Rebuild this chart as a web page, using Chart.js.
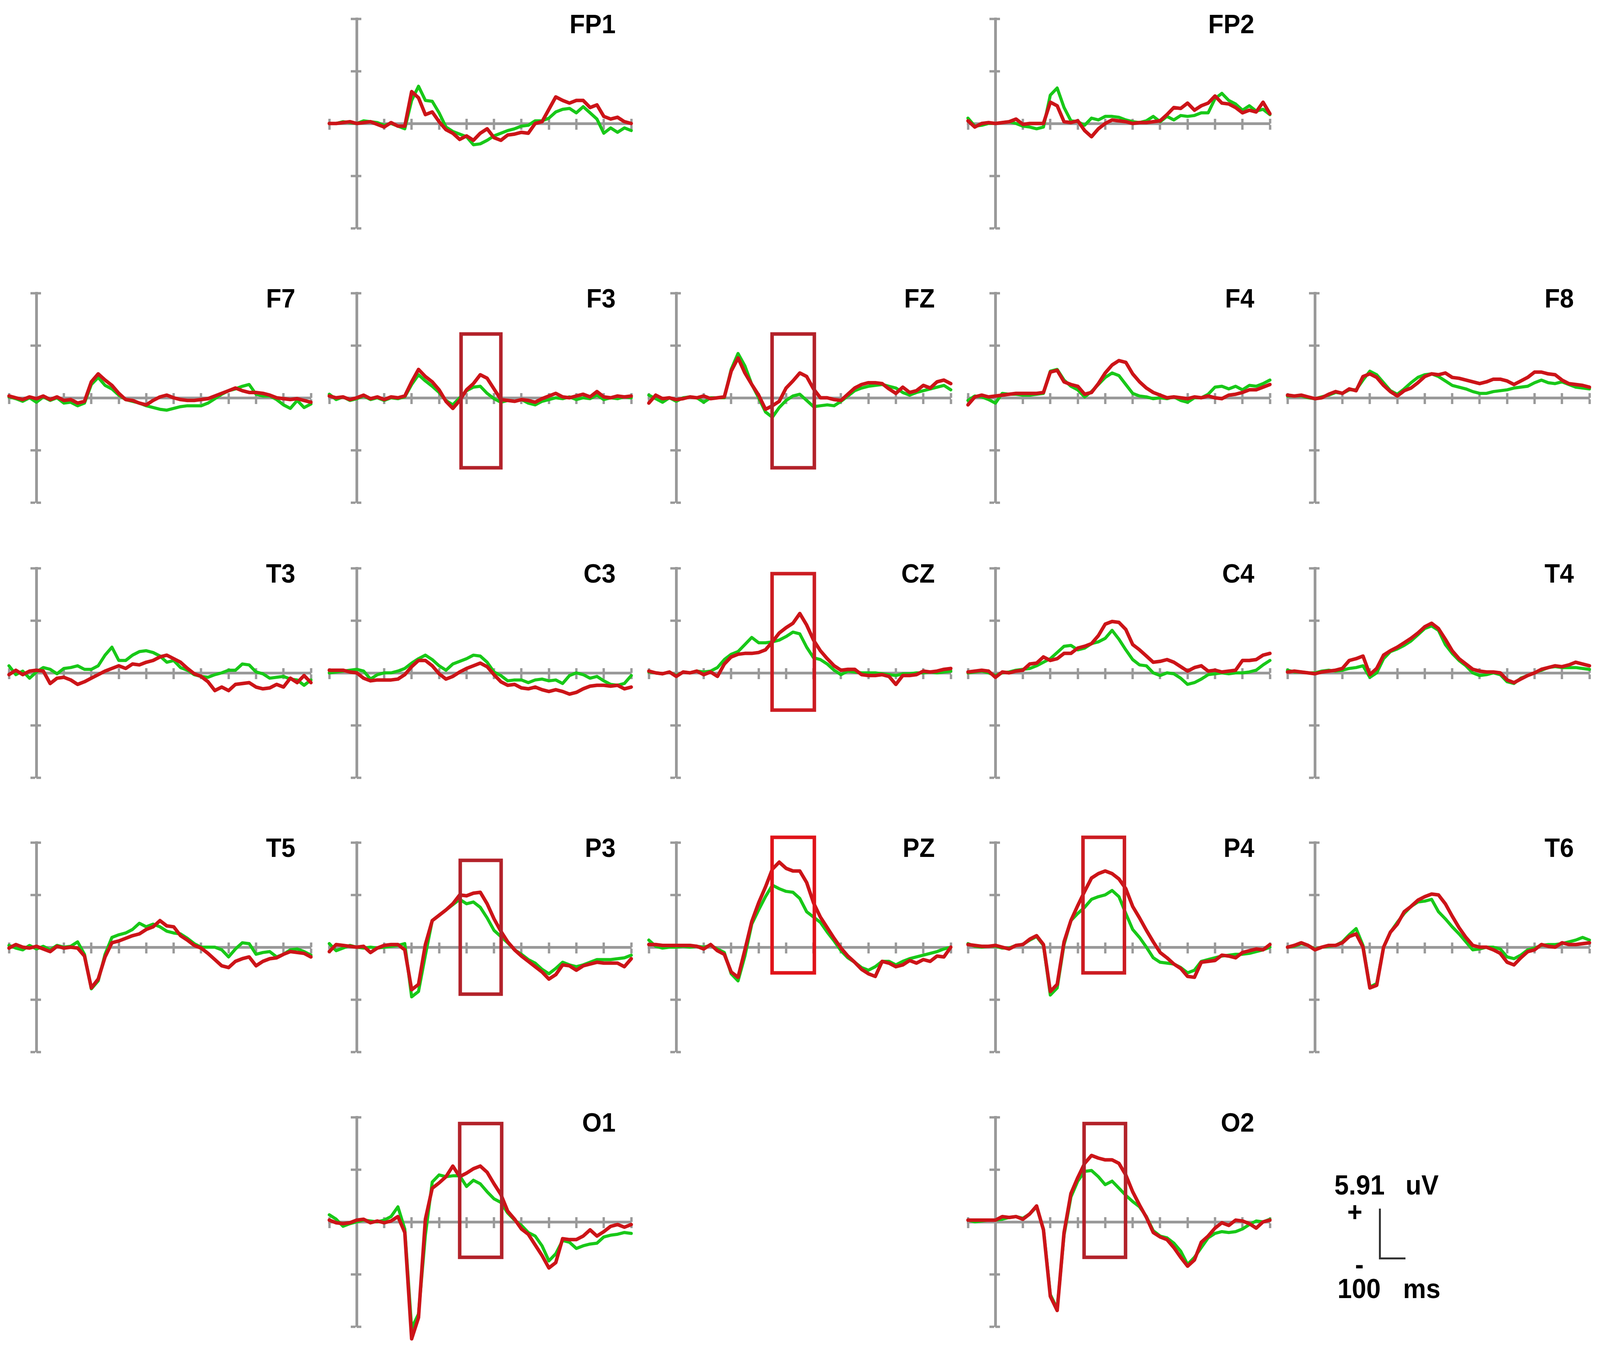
<!DOCTYPE html>
<html>
<head>
<meta charset="utf-8">
<title>ERP waveforms</title>
<script src="https://cdn.jsdelivr.net/npm/chart.js@4.4.1/dist/chart.umd.min.js"></script>
<style>
html, body { margin: 0; padding: 0; background: #ffffff; overflow: hidden; }
#page { position: relative; overflow: hidden; background: #ffffff; }
#page canvas { position: absolute; }
.lbl { position: absolute; width: 400px; text-align: right; font: bold 68px "Liberation Sans", Arial, sans-serif; line-height: 68px; color: #000; white-space: nowrap; transform-origin: 100% 50%; }
.leg { position: absolute; font: bold 70px "Liberation Sans", Arial, sans-serif; line-height: 70px; color: #000; white-space: nowrap; transform-origin: 0 50%; }
#bar { position: absolute; box-sizing: border-box; border-left: 5px solid #333; border-bottom: 5px solid #333; }
</style>
</head>
<body>
<div id="page"></div>
<script>
// ---------- time axis (ms) and tick values ----------
const times = [-100, -75, -50, -25, 0, 25, 50, 75, 100, 125, 150, 175, 200, 225, 250, 275, 300, 325, 350, 375, 400, 425, 450, 475, 500, 525, 550, 575, 600, 625, 650, 675, 700, 725, 750, 775, 800, 825, 850, 875, 900, 925, 950, 975, 1000];
const xTicks = [-100, 0, 100, 200, 300, 400, 500, 600, 700, 800, 900, 1000];
const yTicks = [-11.82, -5.91, 0, 5.91, 11.82];

// ---------- series values (uV); red = condition 1, green = condition 2 ----------
const FP1_red   = [0, 0, 0.1, 0.2, 0, 0.1, 0.2, -0.1, -0.4, 0.1, -0.3, -0.3, 3.6, 2.9, 1.0, 1.3, 0.2, -0.7, -1.1, -1.8, -1.4, -1.9, -1.1, -0.6, -1.6, -1.9, -1.3, -1.2, -1.0, -1.1, 0, 0.2, 1.6, 3.0, 2.6, 2.3, 2.6, 2.6, 1.8, 2.1, 0.8, 0.5, 0.7, 0.2, 0];
const FP1_green = [0, 0, 0.2, 0.1, 0, 0.3, 0.2, 0.1, -0.2, 0, -0.3, -0.6, 2.6, 4.2, 2.6, 2.5, 1.2, -0.4, -0.9, -1.2, -1.5, -2.4, -2.3, -1.9, -1.4, -1.1, -0.8, -0.6, -0.3, -0.2, 0.3, 0.3, 0.6, 1.3, 1.6, 1.7, 1.2, 1.9, 1.2, 0.5, -1.1, -0.5, -1.0, -0.5, -0.8];
const FP2_red   = [0.3, -0.4, 0, 0.1, 0, 0.1, 0.2, 0.5, -0.1, 0, 0, 0, 2.4, 2.0, 0.2, 0.1, 0.3, -0.8, -1.5, -0.6, 0, 0.4, 0.3, 0.2, 0, 0.1, 0.1, 0.2, 0.3, 1.0, 1.8, 1.7, 2.3, 1.5, 2.0, 2.3, 3.1, 2.3, 2.2, 1.8, 1.2, 1.5, 1.3, 2.4, 1.1];
const FP2_green = [0.6, -0.3, -0.2, 0, 0, 0.1, 0.2, 0, -0.3, -0.4, -0.6, -0.4, 3.2, 4.0, 1.8, 0.3, 0.2, -0.2, 0.6, 0.4, 0.8, 0.8, 0.7, 0.4, 0.2, 0.1, 0.3, 0.8, 0.2, 0.8, 0.4, 0.9, 0.8, 0.9, 1.2, 1.2, 2.8, 3.4, 2.6, 2.2, 1.5, 2.0, 1.4, 1.6, 1.0];
const F7_red    = [0.2, 0, -0.2, 0.1, -0.1, 0.2, -0.2, 0.1, -0.3, -0.2, -0.6, -0.4, 1.8, 2.7, 2.0, 1.4, 0.5, -0.2, -0.3, -0.6, -0.8, -0.3, 0.1, 0.3, 0, -0.2, -0.3, -0.3, -0.2, -0.1, 0.2, 0.5, 0.8, 1.1, 0.8, 0.6, 0.6, 0.5, 0.3, 0, -0.1, -0.2, -0.1, -0.3, -0.5];
const F7_green  = [0.1, -0.1, -0.4, 0, -0.5, 0.1, -0.3, 0, -0.6, -0.5, -0.9, -0.6, 1.5, 2.3, 1.4, 1.0, 0.3, -0.2, -0.4, -0.6, -0.9, -1.1, -1.3, -1.4, -1.2, -1.0, -0.9, -0.9, -0.9, -0.6, -0.1, 0.4, 0.8, 1.0, 1.3, 1.5, 0.4, 0.2, 0.2, -0.2, -0.8, -1.2, -0.3, -1.1, -0.7];
const F3_red    = [0.2, 0, 0.1, -0.2, 0, 0.3, -0.1, 0.1, -0.2, 0.1, 0, 0.2, 1.8, 3.2, 2.4, 1.8, 0.9, -0.4, -1.2, -0.3, 0.9, 1.6, 2.6, 2.2, 1.0, -0.2, -0.3, -0.4, -0.2, -0.3, -0.5, -0.1, 0.2, 0.5, 0.1, 0, 0.2, 0.4, 0.1, 0.7, 0.1, 0, 0.2, 0.1, 0.2];
const F3_green  = [0.4, -0.2, 0.1, -0.3, -0.1, 0.2, -0.2, 0, -0.3, 0, -0.1, 0.1, 1.5, 2.6, 1.9, 1.3, 0.6, -0.3, -0.8, 0, 0.8, 1.2, 1.3, 0.5, -0.1, -0.5, -0.3, -0.4, -0.2, -0.6, -0.8, -0.4, -0.2, 0, -0.1, 0.1, -0.2, 0, -0.1, 0.3, -0.2, 0, -0.1, 0.1, 0];
const FZ_red    = [-0.6, 0.3, -0.1, 0, -0.2, -0.1, 0.1, 0, 0.2, -0.1, 0, 0.1, 3.0, 4.5, 2.8, 1.5, 0.3, -1.3, -0.9, -0.4, 1.1, 1.9, 2.8, 2.4, 1.0, 0, 0, -0.2, -0.3, 0.4, 1.1, 1.5, 1.7, 1.7, 1.6, 1.0, 0.5, 1.2, 0.6, 0.8, 1.4, 1.1, 1.8, 2.0, 1.6];
const FZ_green  = [0.3, -0.1, -0.5, 0, -0.4, 0, 0.1, 0, -0.5, 0, 0, 0, 3.2, 5.0, 3.6, 1.5, 0, -1.6, -2.2, -1.1, -0.3, 0.2, 0.4, -0.3, -1.0, -0.9, -0.8, -0.9, -0.4, 0.2, 0.8, 1.1, 1.3, 1.4, 1.5, 1.3, 1.1, 0.6, 0.3, 0.6, 0.8, 1.0, 1.2, 1.4, 0.9];
const F4_red    = [-0.8, 0.1, 0.3, 0.1, 0.2, 0.3, 0.4, 0.5, 0.5, 0.5, 0.5, 0.6, 2.9, 3.1, 1.8, 1.5, 1.3, 0.4, 0.6, 1.6, 2.8, 3.7, 4.2, 4.0, 2.7, 1.8, 1.1, 0.6, 0.3, 0, 0.1, 0, -0.1, 0.1, 0, 0.2, 0, -0.1, 0.3, 0.4, 0.6, 0.9, 0.9, 1.2, 1.5];
const F4_green  = [-0.3, 0.2, 0.1, -0.2, -0.6, 0.5, 0.4, 0.4, 0.3, 0.3, 0.4, 0.5, 3.0, 3.2, 2.0, 1.3, 0.9, 0.1, 0.7, 1.5, 2.3, 2.8, 2.5, 1.5, 0.5, 0.2, 0.1, -0.1, 0, -0.1, 0.1, -0.3, -0.5, 0, 0, 0.4, 1.2, 1.3, 1.0, 1.3, 0.9, 1.4, 1.3, 1.6, 2.0];
const F8_red    = [0.3, 0.2, 0.3, 0.1, -0.1, 0, 0.4, 0.7, 0.5, 1.0, 0.8, 2.4, 2.7, 2.3, 1.4, 0.7, 0.2, 0.8, 1.1, 1.7, 2.4, 2.7, 2.6, 2.8, 2.3, 2.2, 2.0, 1.8, 1.6, 1.8, 2.1, 2.1, 1.9, 1.5, 1.9, 2.3, 2.9, 2.9, 2.7, 2.6, 2.0, 1.6, 1.5, 1.4, 1.2];
const F8_green  = [0.2, 0.2, 0.2, 0, -0.1, 0.1, 0.3, 0.6, 0.5, 0.9, 0.9, 2.0, 3.0, 2.6, 1.7, 0.8, 0.4, 1.0, 1.7, 2.3, 2.6, 2.7, 2.4, 1.9, 1.4, 1.2, 1.0, 0.7, 0.5, 0.5, 0.7, 0.8, 0.9, 1.1, 1.2, 1.3, 1.7, 2.0, 1.7, 1.6, 1.8, 1.5, 1.2, 1.1, 1.0];
const T3_red    = [-0.2, 0.3, -0.2, 0.2, 0.3, 0.2, -1.2, -0.6, -0.5, -0.8, -1.3, -1.0, -0.6, -0.2, 0.2, 0.5, 0.8, 0.5, 1.0, 0.9, 1.2, 1.4, 1.8, 2.0, 1.6, 1.2, 0.5, -0.1, -0.4, -1.0, -2.0, -1.6, -2.0, -1.3, -1.2, -1.1, -1.6, -1.8, -1.7, -1.3, -1.6, -0.6, -1.1, -0.3, -1.1];
const T3_green  = [0.8, -0.2, 0.2, -0.6, 0.1, 0.6, 0.4, -0.1, 0.5, 0.6, 0.8, 0.4, 0.4, 0.8, 2.0, 2.9, 1.4, 1.4, 2.0, 2.4, 2.5, 2.3, 1.9, 1.2, 1.4, 0.6, 0.3, -0.2, -0.4, -0.5, -0.2, 0, 0.3, 0.3, 1.0, 0.9, 0.1, -0.1, -0.6, -0.5, -0.4, -0.7, -0.8, -1.4, -0.8];
const C3_red    = [0.3, 0.3, 0.3, 0.1, 0, -0.6, -0.9, -0.8, -0.8, -0.8, -0.7, -0.2, 0.7, 1.4, 1.4, 0.8, -0.1, -0.7, -0.4, 0.1, 0.5, 0.8, 1.1, 0.7, -0.2, -1.0, -1.4, -1.3, -1.7, -1.8, -1.6, -1.9, -2.1, -1.9, -2.1, -2.4, -2.2, -1.8, -1.5, -1.4, -1.4, -1.5, -1.4, -1.8, -1.6];
const C3_green  = [0, 0.1, 0.2, 0.3, 0.4, 0.2, -0.7, -0.2, 0, 0, 0.2, 0.5, 1.1, 1.6, 2.0, 1.5, 0.8, 0.3, 1.0, 1.3, 1.6, 2.0, 1.9, 1.2, 0.1, -0.3, -0.9, -0.8, -0.8, -1.1, -0.8, -0.7, -0.9, -0.8, -1.2, -0.3, 0, -0.2, -0.6, -0.4, -0.9, -1.3, -1.4, -1.2, -0.3];
const CZ_red    = [0.2, 0, -0.1, 0.1, -0.4, 0.1, 0, 0.2, -0.2, 0.1, -0.4, 1.0, 1.8, 2.1, 2.2, 2.2, 2.3, 2.6, 3.5, 4.5, 5.1, 5.6, 6.7, 5.4, 3.7, 2.5, 1.6, 0.8, 0.3, 0.4, 0.4, -0.2, -0.3, -0.3, -0.2, -0.4, -1.3, -0.3, -0.3, -0.2, 0.2, 0.1, 0.2, 0.4, 0.5];
const CZ_green  = [0.1, 0, -0.1, 0.1, -0.3, 0.1, 0, 0.2, 0.1, 0.2, 0.6, 1.5, 2.1, 2.4, 3.2, 4.0, 3.4, 3.4, 3.5, 3.7, 4.1, 4.6, 4.4, 2.9, 1.7, 1.5, 1.0, 0.3, -0.2, 0.2, 0.1, 0, 0, 0, -0.1, -0.2, -0.3, -0.1, -0.1, 0, 0, 0.1, 0, 0.1, 0.2];
const C4_red    = [0.1, 0.2, 0.3, 0.2, -0.5, 0.1, 0, 0.2, 0.3, 1.0, 1.1, 1.8, 1.4, 1.6, 2.2, 2.2, 2.8, 3.0, 3.3, 4.2, 5.5, 5.8, 5.7, 4.9, 3.2, 2.6, 1.9, 1.2, 1.3, 1.5, 1.2, 0.7, 0.2, 0.6, 0.8, 0.2, 0.3, 0.1, 0.2, 0.3, 1.4, 1.4, 1.5, 2.0, 2.2];
const C4_green  = [0, 0.1, 0.2, 0, -0.3, 0, 0.1, 0.3, 0.4, 0.5, 0.8, 1.2, 1.6, 2.3, 3.0, 3.1, 2.6, 2.8, 3.3, 3.5, 3.9, 4.8, 3.8, 2.6, 1.5, 0.9, 0.8, 0, -0.3, 0, -0.1, -0.6, -1.3, -1.1, -0.7, -0.2, -0.1, 0, -0.1, 0, 0, 0.1, 0.3, 0.9, 1.4];
const T4_red    = [0.1, 0.2, 0.1, 0, -0.1, 0.1, 0.2, 0.3, 0.5, 1.4, 1.6, 1.9, -0.2, 0.5, 2.0, 2.5, 2.9, 3.4, 3.9, 4.5, 5.2, 5.6, 5.0, 3.8, 2.5, 1.6, 1.0, 0.4, 0.2, 0.1, 0.1, 0, -0.8, -1.1, -0.7, -0.3, 0, 0.4, 0.6, 0.8, 0.7, 0.9, 1.2, 1.0, 0.8];
const T4_green  = [0.3, 0.1, 0.1, 0, 0, 0.2, 0.3, 0.2, 0.3, 0.5, 0.6, 0.8, -0.5, 0, 1.6, 2.4, 2.7, 3.1, 3.6, 4.3, 5.0, 5.3, 4.8, 3.2, 2.2, 1.4, 0.8, 0, -0.3, -0.2, 0, -0.2, -1.0, -1.2, -0.6, -0.3, 0, 0.3, 0.6, 0.7, 0.6, 0.6, 0.6, 0.5, 0.4];
const T5_red    = [-0.1, 0.3, 0, -0.1, 0.1, -0.2, -0.5, 0.1, -0.1, 0, -0.1, -1.0, -4.6, -3.6, -1.1, 0.5, 0.7, 1.0, 1.3, 1.5, 2.0, 2.3, 3.0, 2.4, 2.3, 1.3, 0.8, 0.2, -0.1, -0.7, -1.4, -2.1, -2.3, -1.6, -1.3, -1.1, -2.1, -1.6, -1.3, -1.2, -0.8, -0.5, -0.6, -0.7, -1.1];
const T5_green  = [0.2, -0.1, -0.3, 0.2, -0.2, 0.1, -0.3, 0.2, 0, 0.1, 0.6, -0.8, -4.7, -3.8, -0.8, 1.1, 1.4, 1.6, 2.0, 2.7, 2.3, 2.6, 2.3, 1.8, 1.6, 1.5, 1.0, 0.4, 0, 0, 0, -0.3, -1.1, -0.2, 0.5, 0.4, -0.8, -0.6, -0.5, -1.1, -0.8, -0.3, -0.2, -0.5, -0.9];
const P3_red    = [-0.5, 0.3, 0.2, 0.1, 0, 0.1, -0.6, -0.1, 0.2, 0.3, 0.3, -0.3, -4.8, -4.2, 0.3, 3.0, 3.6, 4.2, 4.9, 5.9, 5.8, 6.1, 6.2, 4.9, 3.2, 1.8, 0.6, -0.3, -1.0, -1.6, -2.2, -2.8, -3.6, -3.1, -2.0, -2.1, -2.6, -2.1, -1.9, -1.7, -1.8, -1.8, -1.8, -2.2, -1.3];
const P3_green  = [0.4, -0.4, -0.1, 0.2, 0, -0.1, 0, -0.1, 0, 0.1, 0.2, 0.4, -5.6, -5.0, -0.9, 3.0, 3.6, 4.2, 4.8, 5.4, 4.9, 5.1, 4.5, 3.3, 1.9, 1.2, 0.5, -0.3, -0.8, -1.4, -1.8, -2.5, -3.0, -2.4, -1.7, -2.0, -2.2, -2.0, -1.7, -1.4, -1.4, -1.4, -1.3, -1.2, -0.9];
const PZ_red    = [0.3, 0.3, 0.2, 0.2, 0.2, 0.2, 0.2, 0.1, -0.2, 0.3, -0.4, -0.8, -2.8, -3.4, -0.3, 2.9, 5.0, 6.8, 8.8, 9.6, 8.9, 8.6, 8.6, 7.3, 5.0, 3.4, 2.2, 1.0, -0.1, -1.0, -1.7, -2.5, -3.0, -3.3, -1.6, -1.8, -2.2, -2.0, -1.5, -1.8, -1.4, -1.6, -1.0, -1.1, 0];
const PZ_green  = [0.8, 0.1, -0.1, 0, 0, 0.1, 0, 0.1, 0, 0.2, -0.2, -0.6, -3.0, -3.8, -1.0, 2.6, 4.2, 5.7, 7.0, 6.6, 6.3, 6.2, 5.5, 4.0, 3.4, 2.8, 1.7, 0.7, -0.4, -1.2, -1.7, -2.3, -2.6, -2.2, -1.6, -1.6, -2.0, -1.6, -1.3, -1.1, -0.9, -0.7, -0.5, -0.2, 0];
const P4_red    = [0.3, 0.2, 0.1, 0.1, 0.2, 0, -0.2, 0.2, 0.3, 0.9, 1.3, 0.3, -5.0, -4.2, 0.6, 3.0, 4.7, 6.3, 7.8, 8.3, 8.6, 8.3, 7.7, 6.6, 4.6, 3.3, 1.9, 0.6, -0.6, -1.2, -1.9, -2.4, -3.3, -3.4, -1.7, -1.6, -1.5, -0.9, -1.0, -1.2, -0.6, -0.4, -0.2, -0.3, 0.3];
const P4_green  = [0.4, 0.1, 0, 0.1, 0.1, -0.1, -0.1, 0.2, 0.3, 0.8, 1.2, 0.2, -5.4, -4.6, 0.3, 3.0, 3.8, 4.5, 5.4, 5.7, 5.9, 6.4, 5.7, 3.8, 2.0, 1.1, 0, -1.2, -1.7, -1.8, -1.9, -2.3, -2.9, -2.6, -1.6, -1.4, -1.2, -1.0, -0.9, -0.8, -0.8, -0.7, -0.5, -0.3, 0];
const T6_red    = [0, 0.2, 0.5, 0.2, -0.3, 0, 0.2, 0.2, 0.5, 1.2, 1.5, 0, -4.6, -4.3, 0, 1.7, 2.6, 4.0, 4.6, 5.3, 5.7, 6.0, 5.9, 4.9, 3.5, 2.2, 1.1, 0.2, 0, 0, -0.3, -0.7, -1.7, -2.0, -1.2, -0.5, -0.3, 0.3, 0.1, 0, 0.5, 0.3, 0.3, 0.4, 0.5];
const T6_green  = [0, 0.1, 0.4, 0.2, -0.2, 0, 0.1, 0.2, 0.6, 1.4, 2.1, 0.2, -4.5, -4.1, 0, 1.7, 2.8, 3.8, 4.6, 5.1, 5.2, 5.4, 4.0, 3.2, 2.3, 1.5, 0.6, -0.3, -0.2, 0, 0, -0.2, -1.1, -1.3, -0.9, -0.3, -0.1, 0.2, 0.3, 0.3, 0.4, 0.6, 0.8, 1.1, 0.8];
const O1_red    = [0.2, -0.1, -0.2, -0.1, 0.2, 0.3, -0.1, 0.1, -0.1, 0.1, 0.6, -1.2, -13.2, -10.8, 0.3, 3.8, 4.4, 5.1, 6.3, 5.1, 5.5, 6.0, 6.3, 5.6, 4.3, 3.1, 1.2, 0.3, -0.8, -1.4, -2.6, -3.8, -5.2, -4.6, -1.9, -2.0, -2.0, -1.6, -0.9, -1.6, -1.1, -0.5, -0.3, -0.6, -0.3];
const O1_green  = [0.8, 0.3, -0.5, -0.2, 0, 0.2, 0.1, 0, 0.2, 0.6, 1.7, -0.8, -12.0, -10.4, -1.5, 4.5, 5.3, 5.1, 5.2, 5.2, 4.0, 4.7, 4.3, 3.4, 2.6, 2.2, 1.0, 0.2, -0.4, -1.2, -1.6, -2.7, -4.4, -3.6, -2.1, -2.3, -3.0, -2.7, -2.5, -2.4, -1.7, -1.5, -1.4, -1.2, -1.3];
const O2_red    = [0.2, 0.2, 0.2, 0.2, 0.2, 0.6, 0.5, 0.6, 0.3, 0.9, 1.8, -0.9, -8.4, -10.0, -1.2, 3.2, 5.0, 6.6, 7.5, 7.2, 7.0, 7.0, 6.6, 5.3, 3.4, 1.9, 0.5, -1.2, -1.7, -2.0, -2.9, -4.0, -5.0, -4.3, -2.3, -1.6, -0.7, -0.1, -0.4, 0.2, 0.1, -0.2, -0.7, 0, 0.2];
const O2_green  = [0.2, 0, 0.1, 0.2, 0.2, 0.3, 0.5, 0.6, 0.4, 0.9, 1.7, -0.8, -8.2, -9.8, -1.5, 2.8, 4.6, 5.7, 5.8, 5.1, 4.2, 4.6, 3.8, 3.0, 2.3, 1.7, 0.6, -1.0, -1.6, -1.8, -2.4, -3.3, -4.8, -4.0, -2.9, -1.8, -1.3, -1.1, -1.2, -1.1, -0.8, -0.3, 0.1, 0, 0.3];

// ---------- highlighted windows: [start ms, end ms, top uV, bottom uV] ----------
const F3_box = [380, 525, 7.2, -7.9];
const FZ_box = [349, 503, 7.2, -7.9];
const CZ_box = [349, 503, 11.2, -4.2];
const P3_box = [377, 526, 9.8, -5.3];
const PZ_box = [349, 503, 12.4, -2.9];
const P4_box = [319, 470, 12.4, -2.9];
const O1_box = [375, 528, 11.1, -4.0];
const O2_box = [323, 474, 11.1, -4.0];

// ---------- layout: designed on a 4328 x 3460 sheet, fitted to the viewport ----------
const DESIGN_W = 4328, DESIGN_H = 3460;
const VW = window.innerWidth || DESIGN_W, VH = window.innerHeight || DESIGN_H;
const SX = VW / DESIGN_W, SY = VH / DESIGN_H;
const colAxisX = [99, 965, 1829, 2693, 3557];
const rowZeroY = [316, 1018, 1722, 2424, 3127];
const AREA_W = 817, AREA_H = 536, PAD = 80;
const AX = '#999999';
const RED = '#cc1418', GREEN = '#18c818';
const BOX_DARK = '#b3222a', BOX_MID = '#cc1c22', BOX_BRIGHT = '#e0141a';

const panels = [
  ['FP1', 1, 0, FP1_red, FP1_green, null, null],
  ['FP2', 3, 0, FP2_red, FP2_green, null, null],
  ['F7', 0, 1, F7_red, F7_green, null, null],
  ['F3', 1, 1, F3_red, F3_green, F3_box, BOX_DARK],
  ['FZ', 2, 1, FZ_red, FZ_green, FZ_box, BOX_DARK],
  ['F4', 3, 1, F4_red, F4_green, null, null],
  ['F8', 4, 1, F8_red, F8_green, null, null],
  ['T3', 0, 2, T3_red, T3_green, null, null],
  ['C3', 1, 2, C3_red, C3_green, null, null],
  ['CZ', 2, 2, CZ_red, CZ_green, CZ_box, BOX_MID],
  ['C4', 3, 2, C4_red, C4_green, null, null],
  ['T4', 4, 2, T4_red, T4_green, null, null],
  ['T5', 0, 3, T5_red, T5_green, null, null],
  ['P3', 1, 3, P3_red, P3_green, P3_box, BOX_DARK],
  ['PZ', 2, 3, PZ_red, PZ_green, PZ_box, BOX_BRIGHT],
  ['P4', 3, 3, P4_red, P4_green, P4_box, BOX_MID],
  ['T6', 4, 3, T6_red, T6_green, null, null],
  ['O1', 1, 4, O1_red, O1_green, O1_box, BOX_DARK],
  ['O2', 3, 4, O2_red, O2_green, O2_box, BOX_DARK]
];

const roiPlugin = {
  id: 'roi',
  afterDatasetsDraw(chart, args, opts) {
    const b = opts.box;
    if (!b) return;
    const xs = chart.scales.x, ys = chart.scales.y, ctx = chart.ctx;
    const l = xs.getPixelForValue(b[0]), r = xs.getPixelForValue(b[1]);
    const t = ys.getPixelForValue(b[2]), bt = ys.getPixelForValue(b[3]);
    ctx.save();
    ctx.strokeStyle = opts.color;
    ctx.lineWidth = 9;
    ctx.lineJoin = 'miter';
    ctx.strokeRect(l, t, r - l, bt - t);
    ctx.restore();
  }
};

function axisScale(kind, tickLen, showBorder) {
  const isX = kind === 'x';
  const vals = isX ? xTicks : yTicks;
  return {
    type: 'linear',
    axis: kind,
    min: vals[0],
    max: vals[vals.length - 1],
    position: isX ? { y: 0 } : { x: 0 },
    afterBuildTicks: s => { s.ticks = vals.map(v => ({ value: v })); },
    afterFit: s => { if (isX) { s.height = 0; } else { s.width = 0; } },
    ticks: { display: false },
    grid: { display: true, drawOnChartArea: false, drawTicks: true, tickLength: tickLen, tickWidth: 6, tickColor: AX },
    border: { display: showBorder, color: AX, width: 7 }
  };
}

const page = document.getElementById('page');
page.style.width = VW + 'px';
page.style.height = VH + 'px';

panels.forEach(p => {
  const [name, col, row, red, green, box, boxColor] = p;
  const axPx = colAxisX[col] * SX;
  const zyPx = rowZeroY[row] * SY;
  const areaW = Math.round(AREA_W * SX);
  const areaH = Math.round(AREA_H * SY);
  const cv = document.createElement('canvas');
  cv.width = areaW + 2 * PAD;
  cv.height = areaH + 2 * PAD;
  const axisOffset = areaW * (0 - xTicks[0]) / (xTicks[xTicks.length - 1] - xTicks[0]);
  cv.style.left = (axPx - axisOffset - PAD) + 'px';
  cv.style.top = (zyPx - areaH / 2 - PAD) + 'px';
  page.appendChild(cv);

  new Chart(cv, {
    type: 'line',
    data: {
      datasets: [
        { label: name + ' red', data: times.map((t, i) => ({ x: t, y: red[i] })), borderColor: RED, borderWidth: 9, pointRadius: 0, tension: 0, clip: false, borderJoinStyle: 'round', borderCapStyle: 'round' },
        { label: name + ' green', data: times.map((t, i) => ({ x: t, y: green[i] })), borderColor: GREEN, borderWidth: 8, pointRadius: 0, tension: 0, clip: false, borderJoinStyle: 'round', borderCapStyle: 'round' }
      ]
    },
    options: {
      responsive: false,
      animation: false,
      events: [],
      layout: { padding: PAD },
      scales: {
        x: axisScale('x', 12, true),
        x2: axisScale('x', -12, false),
        y: axisScale('y', 12, true),
        y2: axisScale('y', -12, false)
      },
      plugins: {
        legend: { display: false },
        tooltip: { enabled: false },
        roi: { box: box, color: boxColor }
      }
    },
    plugins: [roiPlugin]
  });

  const lb = document.createElement('div');
  lb.className = 'lbl';
  lb.textContent = name;
  lb.style.left = ((colAxisX[col] + 700) * SX - 400) + 'px';
  lb.style.top = ((rowZeroY[row] - 231) * SY - 58) + 'px';
  lb.style.transform = 'scale(' + SX + ',' + SY + ')';
  page.appendChild(lb);
});

// ---------- calibration legend ----------
function legText(txt, left, top, ws) {
  const d = document.createElement('div');
  d.className = 'leg';
  d.textContent = txt;
  d.style.left = (left * SX) + 'px';
  d.style.top = (top * SY) + 'px';
  d.style.transform = 'scale(' + SX + ',' + SY + ')';
  if (ws) d.style.wordSpacing = ws + 'px';
  page.appendChild(d);
}
legText('5.91 uV', 3610, 2998, 37);
legText('+', 3644, 3067, 0);
legText('-', 3666, 3201, 0);
legText('100 ms', 3618, 3263, 41);
const bar = document.createElement('div');
bar.id = 'bar';
bar.style.left = (3730 * SX) + 'px';
bar.style.top = (3093 * SY) + 'px';
bar.style.width = (72 * SX) + 'px';
bar.style.height = (130 * SY) + 'px';
page.appendChild(bar);
</script>
</body>
</html>
